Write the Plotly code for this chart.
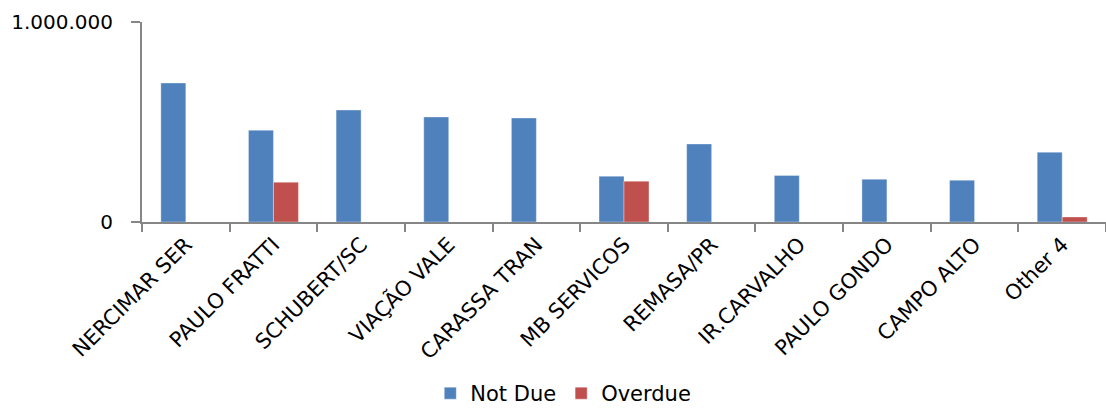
import plotly.graph_objects as go

categories = ["NERCIMAR SER", "PAULO FRATTI", "SCHUBERT/SC", "VIAÇÃO VALE", "CARASSA TRAN",
              "MB SERVICOS", "REMASA/PR", "IR.CARVALHO", "PAULO GONDO", "CAMPO ALTO", "Other 4"]
not_due = [695000, 459000, 560000, 525000, 520000, 229000, 390000, 233000, 214000, 209000, 349000]
overdue = [0, 199000, 0, 0, 0, 204000, 0, 0, 0, 0, 25000]
y_ticks = [0, 1000000]

FONT = "DejaVu Sans"
GREY = "#868686"

fig = go.Figure()
fig.add_trace(go.Bar(name="Not Due", x=categories, y=not_due,
                     marker=dict(color="#4F81BD", line=dict(color="rgba(255,255,255,0.35)", width=1))))
fig.add_trace(go.Bar(name="Overdue", x=categories, y=overdue,
                     marker=dict(color="#C0504D", line=dict(color="rgba(255,255,255,0.35)", width=1))))

fig.update_layout(
    width=1106, height=414,
    margin=dict(l=142, r=0, t=22, b=192, autoexpand=False),
    plot_bgcolor="white", paper_bgcolor="white",
    barmode="group", bargap=0.43, bargroupgap=0,
    separators=",.",
    font=dict(family=FONT, size=21, color="black"),
    showlegend=True,
    legend=dict(orientation="h", x=0.437, xanchor="center", yref="container", y=0.0, yanchor="bottom",
                font=dict(family=FONT, size=21), itemwidth=30, traceorder="normal",
                borderwidth=0),
)
fig.update_xaxes(
    type="category", tickangle=-45, tickson="boundaries", automargin=False,
    ticks="outside", ticklen=8, tickcolor=GREY, tickwidth=2,
    showline=True, linecolor=GREY, linewidth=2, showgrid=False,
    tickfont=dict(family=FONT, size=21),
)
fig.update_yaxes(
    range=[0, 1000000], tickvals=y_ticks, tickformat=",d", automargin=False,
    ticks="outside", ticklen=9, tickcolor=GREY, tickwidth=2,
    showline=True, linecolor=GREY, linewidth=2,
    showgrid=True, gridcolor=GREY, gridwidth=2, zeroline=False,
    tickfont=dict(family=FONT, size=20), ticklabelstandoff=14,
)

fig.write_html("out.html")
